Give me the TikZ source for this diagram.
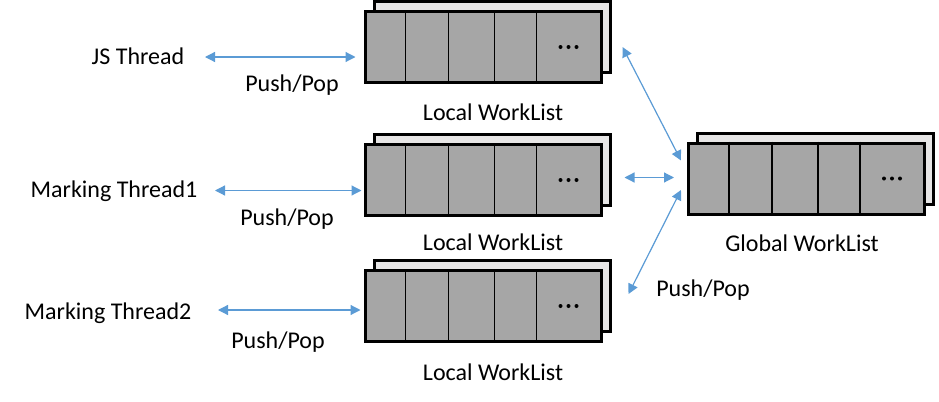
\documentclass[tikz,border=0pt]{standalone}
\usepackage{fontspec}
\setmainfont{Carlito}
\usetikzlibrary{calc,arrows.meta}
\definecolor{cellgray}{HTML}{A6A6A6}
\definecolor{backgray}{HTML}{E7E6E6}
\definecolor{linkblue}{HTML}{5B9BD5}

\tikzset{
  frontbox/.style={draw, line width=1.5pt, fill=cellgray, minimum width=118pt, minimum height=35.5pt, inner sep=0pt},
  backbox/.style={draw, line width=1.5pt, fill=backgray, minimum width=118pt, minimum height=35.5pt, inner sep=0pt},
  link/.style={{Triangle[length=5pt,width=5pt]}-{Triangle[length=5pt,width=5pt]}, draw=linkblue, fill=linkblue, line width=.6pt},
  txt/.style={font=\fontsize{12}{14}\selectfont, inner sep=0pt}
}

% name, centre x, centre y
\newcommand{\worklist}[3]{%
  \node[backbox] at (#2+9,#3-10) {};
  \node[frontbox] (#1) at (#2,#3) {};
  \foreach \d in {42,85,131,173}
    \draw[line width=.6pt] ($(#1.north west)+(\d,0)$) -- ($(#1.south west)+(\d,0)$);
  \foreach \k in {-8,0,8}
    \fill ($(#1.west)+(205+\k,0)$) circle (2);
}

\begin{document}
\begin{tikzpicture}[x=0.5pt,y=-0.5pt]
\useasboundingbox (0,0) rectangle (939,402);

% worklists
\worklist{l1}{483}{47}
\worklist{l2}{483}{180}
\worklist{l3}{483}{306}
\worklist{g}{806.5}{178.5}

\node[txt] (ll1) at (493,112){Local WorkList};
\node[txt] (ll2) at (493,242){Local WorkList};
\node[txt] (ll3) at (493,372){Local WorkList};
\node[txt] (gl) at (802,243){Global WorkList};

% threads
\node[txt] (js) at (138,56.5){JS Thread};
\node[txt] (mt1) at (114,191){Marking Thread1};
\node[txt] (mt2) at (108,313){Marking Thread2};

\node[txt] (pp1) at (292,85){Push/Pop};
\node[txt] (pp2) at (287,219){Push/Pop};
\node[txt] (pp3) at (278,342){Push/Pop};
\node[txt] (pp4) at (703,290){Push/Pop};

\coordinate (js-end) at (205,57);
\coordinate (mt1-end) at (215,190.5);
\coordinate (mt2-end) at (218,310);

\draw[link, shorten >=4pt] (js-end) -- (js-end -| l1.west);
\draw[link, shorten >=1pt] (mt1-end) -- (mt1-end -| l2.west);
\draw[link, shorten >=1.5pt] (mt2-end) -- (mt2-end -| l3.west);

\draw[link] ($(l1.east)+(20,0)$) -- ($(g.west)+(-6,-18)$);
\draw[link] ($(l2.east)+(22,-2.5)$) -- ($(g.west)+(-13,-1)$);
\draw[link] ($(l3.east)+(26,-12)$) -- ($(g.west)+(-6,11.5)$);
\end{tikzpicture}
\end{document}
